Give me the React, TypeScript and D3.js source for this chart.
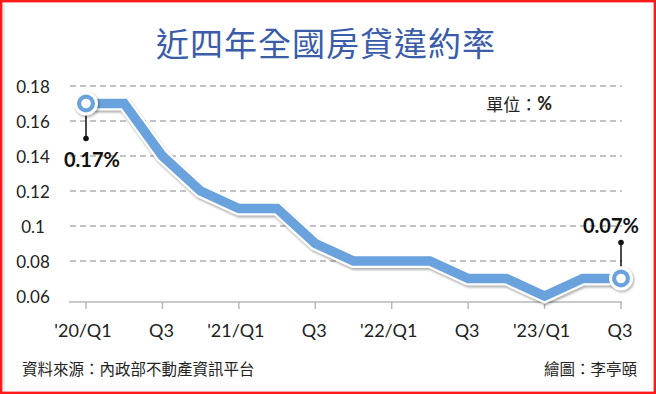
import React from 'react'
import * as d3 from 'd3'

// quarters from '20/Q1 to '23/Q3
const quarters = ["'20/Q1", "'20/Q2", "'20/Q3", "'20/Q4", "'21/Q1", "'21/Q2", "'21/Q3", "'21/Q4",
  "'22/Q1", "'22/Q2", "'22/Q3", "'22/Q4", "'23/Q1", "'23/Q2", "'23/Q3"]
const rates = [0.17, 0.17, 0.14, 0.12, 0.11, 0.11, 0.09, 0.08, 0.08, 0.08, 0.07, 0.07, 0.06, 0.07, 0.07]
const tickQuarters = ["'20/Q1", "'20/Q3", "'21/Q1", "'21/Q3", "'22/Q1", "'22/Q3", "'23/Q1", "'23/Q3"]
const tickLabels = ["'20/Q1", 'Q3', "'21/Q1", 'Q3', "'22/Q1", 'Q3', "'23/Q1", 'Q3']
const yTicks = [0.06, 0.08, 0.1, 0.12, 0.14, 0.16, 0.18]
const yTickLabels = ['0.06', '0.08', '0.1', '0.12', '0.14', '0.16', '0.18']

const W = 656, H = 394
const lineBlue = '#6aa2de'
const latin = 'Lato, "Noto Sans", sans-serif'
const cjk = '"Noto Sans CJK TC", "Noto Sans CJK SC", sans-serif'

export default function App() {
  const x = d3.scalePoint<string>().domain(quarters).range([86, 621])
  const y = d3.scaleLinear().domain([0.06, 0.18]).range([296, 86])
  const baseY = y(0.06) + 6

  const line = d3.line<number>()
    .x((d, i) => x(quarters[i]) as number)
    .y(d => y(d))
  const path = line(rates) || ''

  const first = { x: x(quarters[0]) as number, y: y(rates[0]) }
  const lastI = rates.length - 1
  const last = { x: x(quarters[lastI]) as number, y: y(rates[lastI]) }

  const marker = (p: { x: number, y: number }) => (
    <g>
      <circle cx={p.x + 1} cy={p.y + 1.5} r={12.5} fill="#000" opacity={0.25} filter="url(#blur)" />
      <circle cx={p.x} cy={p.y} r={12} fill="#fff" />
      <circle cx={p.x} cy={p.y} r={9} fill={lineBlue} />
      <circle cx={p.x} cy={p.y} r={4.8} fill="#fff" />
    </g>
  )

  return (
    <svg width={W} height={H} style={{ position: 'absolute', left: 0, top: 0, background: '#fff' }}>
      <defs>
        <filter id="blur" x="-20%" y="-20%" width="140%" height="140%">
          <feGaussianBlur stdDeviation="1.2" />
        </filter>
      </defs>
      <rect x={1.2} y={1.2} width={W - 2.4} height={H - 2.4} fill="none" stroke="#ff1a1a" strokeWidth={2.4} />
      <line x1={4} x2={4} y1={3} y2={H - 3} stroke="#bfe6f5" strokeWidth={1.2} />

      <text x={326} y={42} textAnchor="middle" dominantBaseline="central" fontFamily={cjk}
        fontSize={33} fontWeight={400} fill="#3a5ca9" letterSpacing={1}>近四年全國房貸違約率</text>

      {/* grid */}
      {yTicks.filter(v => v > 0.06).map(v => (
        <line key={v} x1={70} x2={622} y1={y(v)} y2={y(v)} stroke="#b0b0b0" strokeWidth={1.4}
          strokeDasharray="6 4" />
      ))}
      {yTicks.map((v, i) => (
        <text key={v} x={33} y={y(v)} textAnchor="middle" dominantBaseline="central"
          fontFamily={latin} fontSize={17} fill="#222">{yTickLabels[i]}</text>
      ))}

      {/* x axis */}
      <line x1={69} x2={622} y1={baseY} y2={baseY} stroke="#b8b8b8" strokeWidth={1.5} />
      {tickQuarters.map((q, i) => (
        <g key={q}>
          <line x1={x(q)} x2={x(q)} y1={baseY} y2={baseY + 7} stroke="#b8b8b8" strokeWidth={1.5} />
          <text x={(x(q) as number) - (tickLabels[i].startsWith("'") ? 3 : 1)} y={330}
            textAnchor="middle" dominantBaseline="central"
            fontFamily={latin} fontSize={18} fill="#222">{tickLabels[i]}</text>
        </g>
      ))}

      <text x={552} y={103} textAnchor="end" dominantBaseline="central" fontFamily={cjk}
        fontSize={17} fill="#222">單位：<tspan fontFamily={latin} fontWeight={700} fontSize={18}>%</tspan></text>

      {/* line */}
      <path d={path} fill="none" stroke="#000" strokeWidth={14} opacity={0.3} filter="url(#blur)"
        transform="translate(1,2)" strokeLinejoin="miter" />
      <path d={path} fill="none" stroke="#fff" strokeWidth={14} strokeLinejoin="miter" />
      <path d={path} fill="none" stroke={lineBlue} strokeWidth={9.5} strokeLinejoin="miter" />

      {/* annotations */}
      <line x1={first.x} x2={first.x} y1={first.y + 12} y2={first.y + 35} stroke="#111" strokeWidth={1.5} />
      <circle cx={first.x} cy={first.y + 35} r={2.8} fill="#111" />
      <text x={92} y={167} textAnchor="middle" fontFamily={latin} fontWeight={700} fontSize={20}
        fill="#111">0.17%</text>

      <line x1={last.x} x2={last.x} y1={last.y - 12} y2={last.y - 36} stroke="#111" strokeWidth={1.5} />
      <circle cx={last.x} cy={last.y - 36} r={2.8} fill="#111" />
      <text x={611} y={233} textAnchor="middle" fontFamily={latin} fontWeight={700} fontSize={20}
        fill="#111">0.07%</text>

      {marker(first)}
      {marker(last)}

      <text x={22} y={368} dominantBaseline="central" fontFamily={cjk} fontSize={15.5}
        fill="#222">資料來源：內政部不動產資訊平台</text>
      <text x={637} y={368} textAnchor="end" dominantBaseline="central" fontFamily={cjk}
        fontSize={15.5} fill="#222">繪圖：李亭頤</text>
    </svg>
  )
}
